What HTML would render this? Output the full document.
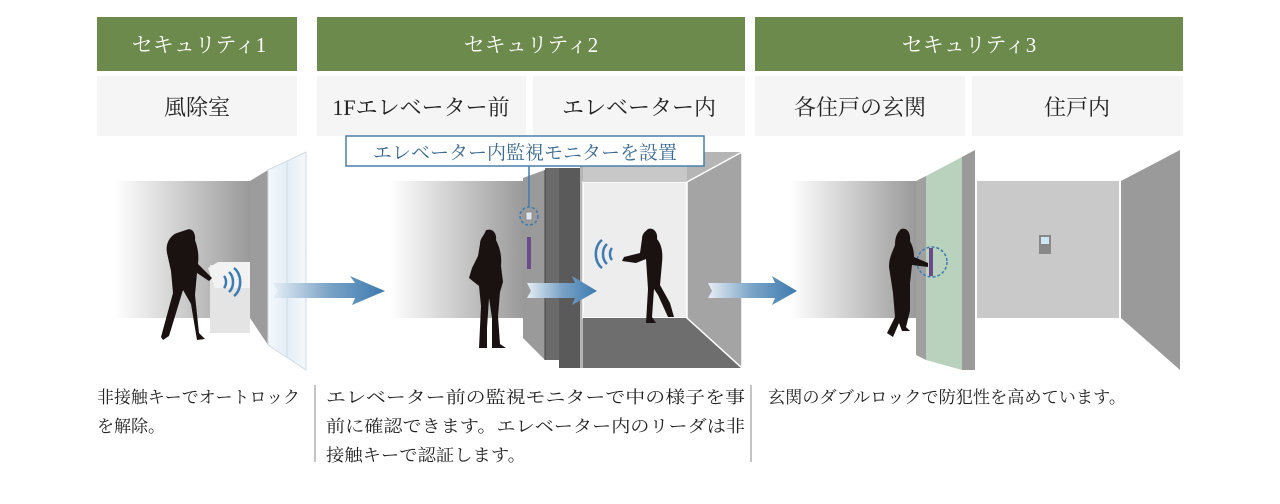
<!DOCTYPE html>
<html><head><meta charset="utf-8"><style>
html,body{margin:0;padding:0;background:#fff;width:1280px;height:504px;overflow:hidden}
svg{display:block}
text{font-family:"Liberation Serif","Noto Serif CJK SC",serif}
</style></head><body>
<svg width="1280" height="504" viewBox="0 0 1280 504" xmlns="http://www.w3.org/2000/svg">
<defs>
<linearGradient id="wall" x1="0" x2="1" y1="0" y2="0"><stop offset="0" stop-color="#fff"/><stop offset="1" stop-color="#9a9a9a"/></linearGradient>
<linearGradient id="arr" x1="0" x2="1"><stop offset="0" stop-color="#e6eef5"/><stop offset="0.5" stop-color="#7aa3c6"/><stop offset="1" stop-color="#3d7bb0"/></linearGradient>
<linearGradient id="glass" x1="0" x2="1"><stop offset="0" stop-color="#f4f8fb"/><stop offset="0.5" stop-color="#e4eef6"/><stop offset="1" stop-color="#f4f8fb"/></linearGradient>
</defs>
<!-- headers -->
<rect x="97" y="17" width="200" height="54" fill="#6c8a4c"/>
<rect x="317" y="17" width="428" height="54" fill="#6c8a4c"/>
<rect x="755" y="17" width="428" height="54" fill="#6c8a4c"/>
<g fill="#fff" font-size="21" text-anchor="middle">
<text x="199" y="52">セキュリティ1</text>
<text x="531" y="52">セキュリティ2</text>
<text x="969" y="52">セキュリティ3</text>
</g>
<g fill="#f5f5f5">
<rect x="97" y="76" width="200" height="60"/>
<rect x="317" y="76" width="209" height="60"/>
<rect x="533" y="76" width="212" height="60"/>
<rect x="755" y="76" width="210" height="60"/>
<rect x="972" y="76" width="211" height="60"/>
</g>
<g fill="#222" font-size="22" text-anchor="middle">
<text x="197" y="115">風除室</text>
<text x="421" y="115">1Fエレベーター前</text>
<text x="639" y="115">エレベーター内</text>
<text x="860" y="115">各住戸の玄関</text>
<text x="1077" y="115">住戸内</text>
</g>
<!-- scene 1 -->
<rect x="115" y="181" width="135" height="137" fill="url(#wall)"/>
<polygon points="250,181 268,170 268,345 250,318" fill="#9c9c9c"/>
<polygon points="268,170 306,152 306,370 268,345" fill="url(#glass)" stroke="#cfdbe4"/>
<line x1="287" y1="161" x2="287" y2="358" stroke="#cfdbe4"/>
<rect x="210" y="265" width="40" height="68" fill="#e4e4e4"/>
<polygon points="208,268 218,262 250,262 250,288 215,288" fill="#f2f2f2"/>
<g fill="none" stroke="#3d7bb0" stroke-width="2.5">
<path d="M224,276 a6,8 0 0 1 0,12"/><path d="M229,272 a9,12 0 0 1 0,20"/><path d="M234,268 a12,16 0 0 1 0,28"/>
</g>
<path d="M186,230 c6,-3 10,3 9,10 c3,8 4,16 3,24 l14,14 l-3,3 l-12,-8 l-2,22 l4,38 l6,6 l-8,1 l-6,-36 l-8,-14 l-14,46 l-6,4 l-2,-3 l12,-44 l-2,-22 l-4,-18 c-2,-10 4,-18 10,-20 z" fill="#1a1210"/>
<!-- scene 2 -->
<rect x="390" y="181" width="133" height="137" fill="url(#wall)"/>
<polygon points="523,178 545,170 545,360 523,338" fill="#9a9a9a"/>
<rect x="545" y="168" width="14" height="192" fill="#6a6a6a"/>
<rect x="559" y="168" width="21" height="200" fill="#5a5a5a"/>
<line x1="545" y1="170" x2="545" y2="360" stroke="#444"/>
<rect x="527" y="237" width="4" height="32" fill="#6a4a8a"/>
<circle cx="529" cy="216" r="9" fill="none" stroke="#3d7bb0" stroke-width="1.5" stroke-dasharray="3,2"/>
<rect x="526" y="212" width="6" height="8" fill="#dfe8ee" stroke="#888" stroke-width="0.8"/>
<line x1="529" y1="166" x2="529" y2="207" stroke="#3d7bb0" stroke-width="1.5"/>
<rect x="580" y="152" width="162" height="216" fill="#b5b5b5"/>
<rect x="583" y="182" width="104" height="136" fill="#ededed" stroke="#fff" stroke-width="1.5"/>
<polygon points="583,318 687,318 742,368 583,368" fill="#6e6e6e"/>
<polygon points="687,182 742,152 742,368 687,318" fill="#a4a4a4" stroke="#fff" stroke-width="1.5"/>
<polygon points="583,165 687,165 687,182 583,182" fill="#c8c8c8"/>
<g fill="none" stroke="#3d7bb0" stroke-width="2.5">
<path d="M612,248 a6,8 0 0 0 0,12"/><path d="M607,244 a9,12 0 0 0 0,20"/><path d="M602,240 a12,16 0 0 0 0,28"/>
</g>
<path d="M648,229 c6,-2 10,4 9,10 c5,6 6,14 5,24 l-2,22 l10,18 l4,14 l-6,0 l-10,-22 l-4,-6 l-2,28 l4,6 l-10,0 l2,-34 l-2,-30 l-10,4 l-14,-2 l2,-4 l16,-4 l2,-14 c0,-6 4,-8 6,-10 z" fill="#1a1210"/>
<path d="M487,230 c6,-2 10,4 9,10 c4,8 6,16 5,26 l2,16 l-3,10 l-2,24 l2,28 l6,4 l-14,0 l0,-30 l-3,-20 l-2,30 l0,20 l-8,0 l2,-42 l-2,-20 l-10,-8 l3,-10 l6,-12 l2,-12 c0,-6 4,-8 6,-14 z" fill="#1a1210"/>
<!-- callout -->
<rect x="346" y="136" width="358" height="30" fill="#fff" stroke="#4a7fa8" stroke-width="1.5"/>
<text x="525" y="159" font-size="19" fill="#3b6a90" text-anchor="middle">エレベーター内監視モニターを設置</text>
<!-- scene 3 -->
<rect x="790" y="181" width="126" height="137" fill="url(#wall)"/>
<polygon points="916,181 926,176 926,360 916,355" fill="#a0a0a0"/>
<polygon points="926,176 962,157 962,370 926,360" fill="#b9d2bd"/>
<polygon points="962,157 975,150 975,370 962,370" fill="#9a9a9a"/>
<rect x="929" y="248" width="4" height="28" fill="#6a4a8a"/>
<circle cx="932" cy="262" r="15" fill="none" stroke="#3d7bb0" stroke-width="1.5" stroke-dasharray="3,2"/>
<path d="M901,229 c6,-2 10,4 9,12 c3,6 4,10 4,16 l14,6 l0,4 l-16,-2 l-2,18 l0,28 l-4,16 l4,4 l-8,0 l-3,-8 l-6,14 l-6,-4 l8,-16 l-2,-24 l-4,-26 c0,-10 4,-16 6,-22 c0,-8 2,-12 6,-16 z" fill="#1a1210"/>
<!-- scene 4 -->
<rect x="977" y="181" width="142" height="137" fill="#c9c9c9"/>
<polygon points="1121,181 1180,150 1180,370 1121,318" fill="#9a9a9a"/>
<rect x="1039" y="235" width="12" height="19" fill="#888"/>
<rect x="1041" y="237" width="8" height="7" fill="#cde6f2"/>
<!-- arrows (on top) -->
<polygon points="273,283 355,283 350,276 385,291 352,305 355,298 273,298 278,291" fill="url(#arr)"/>
<polygon points="527,283 575,283 572,276 597,291 572,305 575,298 527,298 531,291" fill="url(#arr)"/>
<polygon points="708,283 775,283 772,276 797,291 772,305 775,298 708,298 712,291" fill="url(#arr)"/>
<!-- dividers -->
<line x1="315" y1="385" x2="315" y2="462" stroke="#888" stroke-width="1"/>
<line x1="751" y1="385" x2="751" y2="462" stroke="#888" stroke-width="1"/>
<g fill="#222" font-size="17">
<text x="97" y="403" textLength="203" lengthAdjust="spacingAndGlyphs">非接触キーでオートロック</text>
<text x="97" y="432" textLength="68" lengthAdjust="spacingAndGlyphs">を解除。</text>
<text x="326" y="403" textLength="419" lengthAdjust="spacingAndGlyphs">エレベーター前の監視モニターで中の様子を事</text>
<text x="326" y="432" textLength="419" lengthAdjust="spacingAndGlyphs">前に確認できます。エレベーター内のリーダは非</text>
<text x="326" y="461" textLength="200" lengthAdjust="spacingAndGlyphs">接触キーで認証します。</text>
<text x="768" y="403" textLength="358" lengthAdjust="spacingAndGlyphs">玄関のダブルロックで防犯性を高めています。</text>
</g>
</svg>
</body></html>
